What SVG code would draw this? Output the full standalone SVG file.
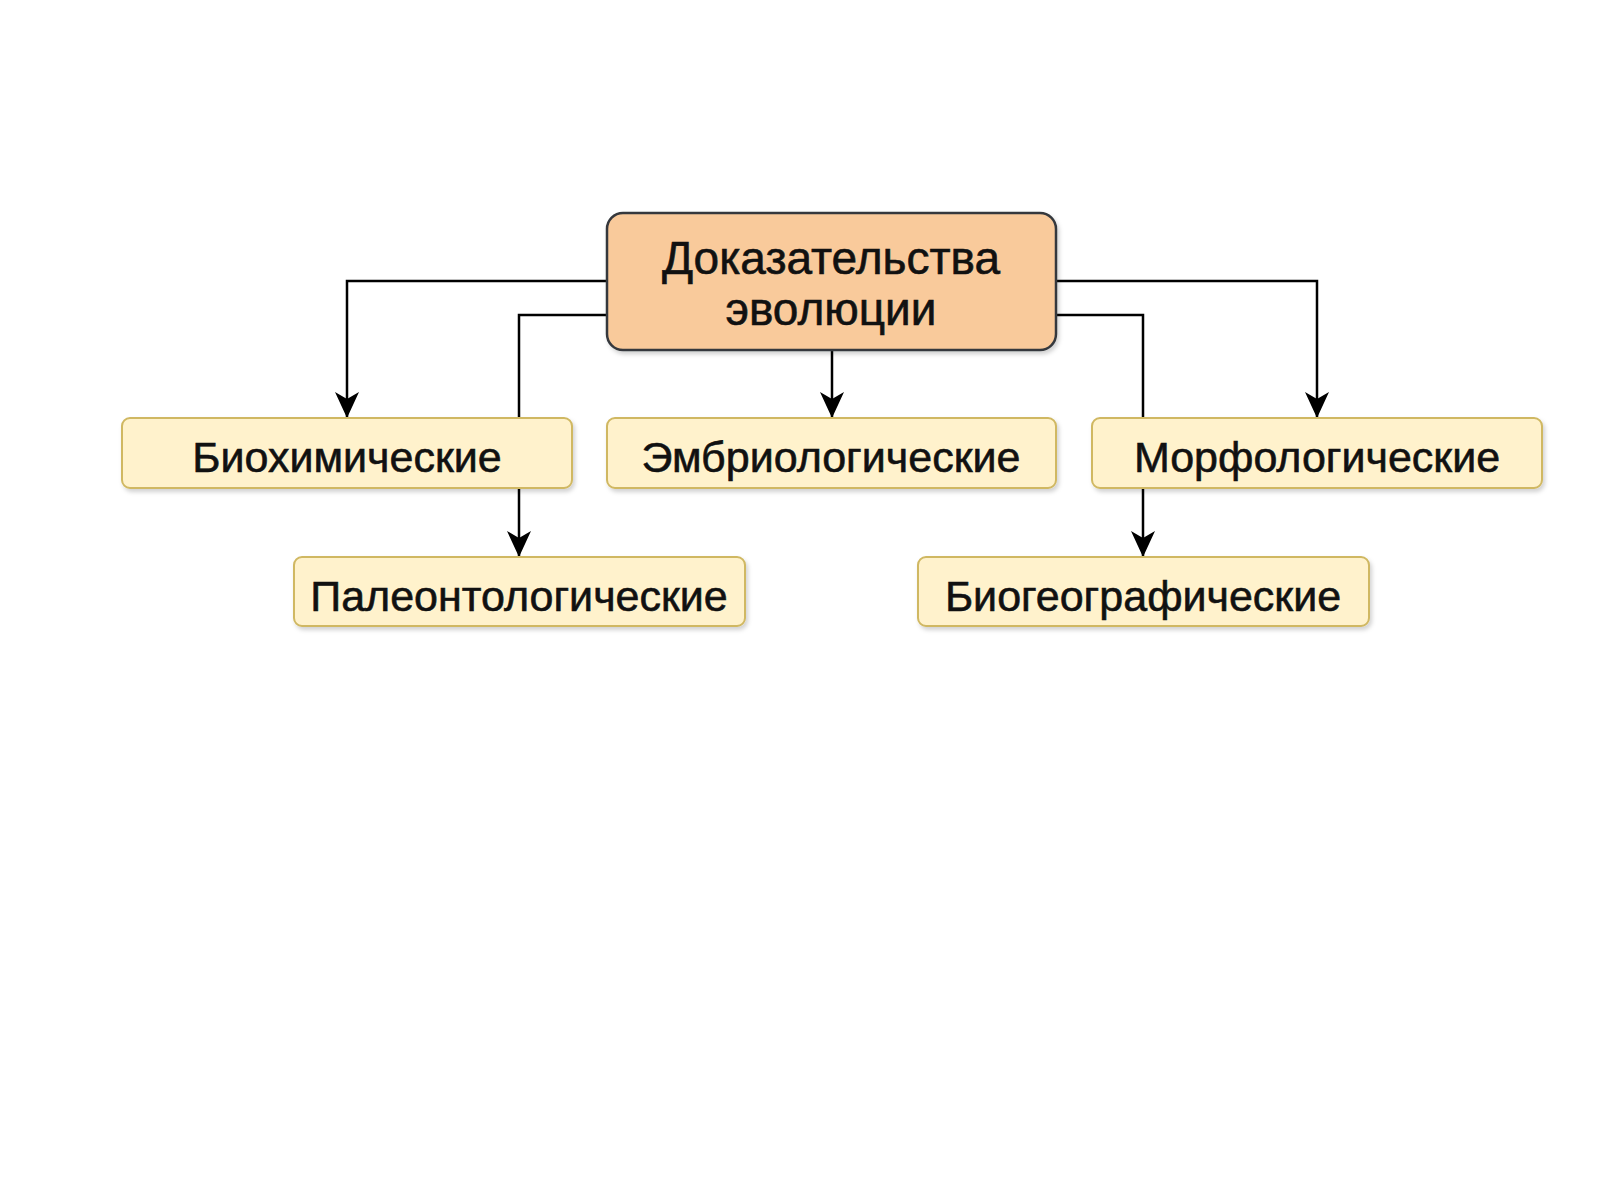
<svg xmlns="http://www.w3.org/2000/svg" width="1600" height="1200" viewBox="0 0 1600 1200">
<defs>
<marker id="arr" markerUnits="userSpaceOnUse" markerWidth="28" markerHeight="26" refX="26" refY="12" orient="auto">
<path d="M0,0 L26,12 L0,24 L7,12 Z" fill="#000"/>
</marker>
<filter id="sh" x="-5%" y="-5%" width="115%" height="130%">
<feDropShadow dx="2" dy="3" stdDeviation="2" flood-color="#000" flood-opacity="0.18"/>
</filter>
</defs>
<style>
.main{fill:#f9ca9b;stroke:#36393d;stroke-width:2.5}
.leaf{fill:#fff2cc;stroke:#d0b862;stroke-width:2}
.t{font-family:"Liberation Sans",Arial,sans-serif;fill:#111;stroke:#111;stroke-width:0.6;text-anchor:middle}
.big{font-size:46px}
.sm{font-size:43px}
.c{fill:none;stroke:#000;stroke-width:2.5}
</style>
<rect width="1600" height="1200" fill="#fff"/>
<g id="connectors">
<path class="c" d="M607,281 H347 V418" marker-end="url(#arr)"/>
<path class="c" d="M607,315 H519 V557" marker-end="url(#arr)"/>
<path class="c" d="M832,350 V418" marker-end="url(#arr)"/>
<path class="c" d="M1056,281 H1317 V418" marker-end="url(#arr)"/>
<path class="c" d="M1056,315 H1143 V557" marker-end="url(#arr)"/>
</g>
<g id="root">
<rect class="main" x="607" y="213" width="449" height="137" rx="16" filter="url(#sh)"/>
<text class="t big" x="831" y="274">Доказательства</text>
<text class="t big" x="831" y="325">эволюции</text>
</g>
<g id="biochem">
<rect class="leaf" x="122" y="418" width="450" height="70" rx="8" filter="url(#sh)"/>
<text class="t sm" x="347" y="472">Биохимические</text>
</g>
<g id="embryo">
<rect class="leaf" x="607" y="418" width="449" height="70" rx="8" filter="url(#sh)"/>
<text class="t sm" x="831" y="472">Эмбриологические</text>
</g>
<g id="morph">
<rect class="leaf" x="1092" y="418" width="450" height="70" rx="8" filter="url(#sh)"/>
<text class="t sm" x="1317" y="472">Морфологические</text>
</g>
<g id="paleo">
<rect class="leaf" x="294" y="557" width="451" height="69" rx="8" filter="url(#sh)"/>
<text class="t sm" x="519" y="611">Палеонтологические</text>
</g>
<g id="biogeo">
<rect class="leaf" x="918" y="557" width="451" height="69" rx="8" filter="url(#sh)"/>
<text class="t sm" x="1143" y="611">Биогеографические</text>
</g>
</svg>
